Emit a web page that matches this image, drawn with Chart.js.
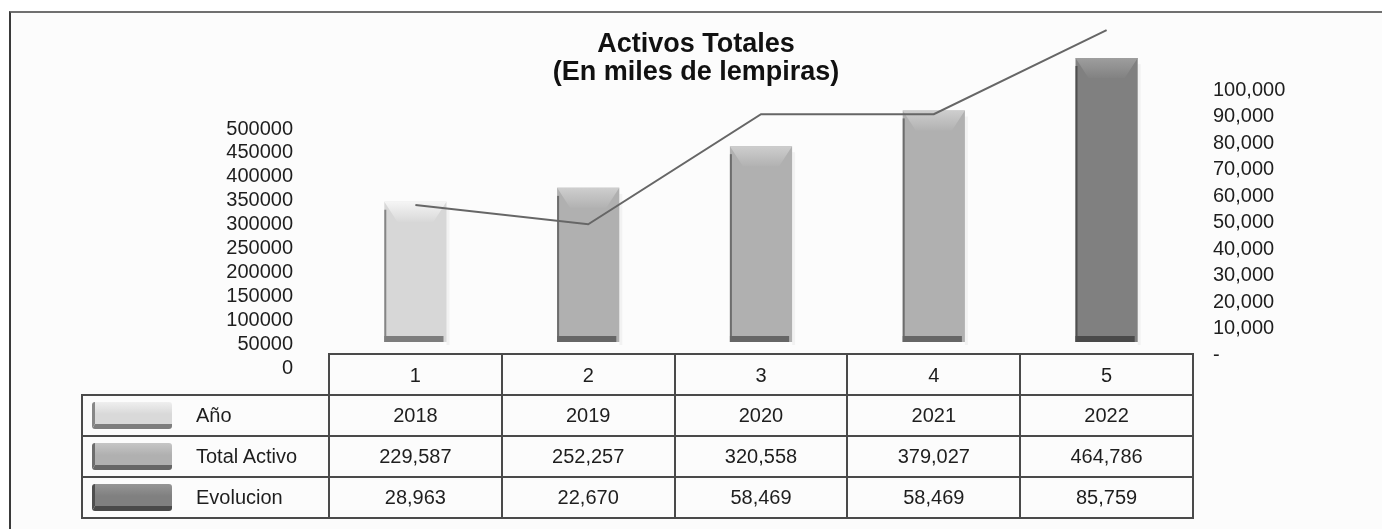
<!DOCTYPE html>
<html>
<head>
<meta charset="utf-8">
<script src="https://cdn.jsdelivr.net/npm/chart.js@4.4.1/dist/chart.umd.min.js"></script>
<style>
  html, body { margin: 0; padding: 0; background: #fff; }
  #wrap { position: relative; width: 1382px; height: 529px; overflow: hidden; background: #fff; }
  #frame { position: absolute; left: 9px; top: 11px; right: -10px; bottom: -10px; background: #fcfcfc;
           border-top: 2px solid #707070; border-left: 2px solid #3a3a3a; }
  canvas { position: absolute; left: 0; top: 0; }
  #tabla { position: absolute; left: 0; top: 0; width: 1382px; height: 529px; }
  .cell { position: absolute; box-sizing: border-box; border: 2px solid #4a4a4a; display: flex;
          align-items: center; justify-content: center; color: #1e1e1e;
          font: 20px 'Liberation Sans', Arial, sans-serif; }
  .cell.leg { justify-content: flex-start; }
  .sw { width: 80px; height: 27px; margin-left: 9px; margin-right: 24px; box-sizing: border-box;
        border-radius: 3px; }
</style>
</head>
<body>
<div id="wrap">
  <div id="frame"></div>
  <canvas id="c" width="1382" height="529"></canvas>
  <div id="tabla"></div>
</div>
<script>
// datos del grafico
const categories = ['1', '2', '3', '4', '5'];
const years = ['2018', '2019', '2020', '2021', '2022'];
const totalActivo = [229587, 252257, 320558, 379027, 464786];
const evolucion = [28963, 22670, 58469, 58469, 85759];
const leftTicks = [0, 50000, 100000, 150000, 200000, 250000, 300000, 350000, 400000, 450000, 500000];
const rightTicks = [0, 10000, 20000, 30000, 40000, 50000, 60000, 70000, 80000, 90000, 100000];
const rowLabels = ['Año', 'Total Activo', 'Evolucion'];

const barColors = ['#d7d7d7', '#b0b0b0', '#b0b0b0', '#b0b0b0', '#808080'];
const swatchColors = ['#d9d9d9', '#b0b0b0', '#808080'];
const FONT = "'Liberation Sans', Arial, sans-serif";

function shade(hex, amt) {
    const n = parseInt(hex.slice(1), 16);
    const f = v => Math.max(0, Math.min(255, v + amt));
    const r = f(n >> 16), g = f((n >> 8) & 255), b = f(n & 255);
    return `rgb(${r},${g},${b})`;
}
function dark(hex, k) {
    const n = parseInt(hex.slice(1), 16);
    const f = v => Math.round(v * k);
    return `rgb(${f(n >> 16)},${f((n >> 8) & 255)},${f(n & 255)})`;
}

// bisel tipo excel sobre las barras
const bevelPlugin = {
    id: 'bevel',
    afterDatasetDraw(chart, args) {
        if (args.index !== 0) return;
        const ctx = chart.ctx;
        args.meta.data.forEach((bar, i) => {
            const { x, y, base, width } = bar.getProps(['x', 'y', 'base', 'width'], true);
            const c = barColors[i];
            const l = x - width / 2, r = x + width / 2, h = base - y;
            ctx.save();
            ctx.fillStyle = 'rgba(0,0,0,0.04)';
            ctx.fillRect(r, y + 6, 3, h - 3);
            const g = ctx.createLinearGradient(0, y, 0, y + 20);
            g.addColorStop(0, shade(c, 30));
            g.addColorStop(1, shade(c, 2));
            ctx.fillStyle = g;
            ctx.beginPath();
            ctx.moveTo(l, y);
            ctx.lineTo(r, y);
            ctx.lineTo(r - 13, y + 20);
            ctx.lineTo(l + 13, y + 20);
            ctx.closePath();
            ctx.fill();
            ctx.fillStyle = dark(c, 0.62);
            ctx.fillRect(l, y + 8, 2, h - 8);
            ctx.fillStyle = dark(c, 0.58);
            ctx.fillRect(l, base - 6, width - 3, 6);
            ctx.restore();
        });
    }
};

const titlePlugin = {
    id: 'titulo',
    afterDraw(chart) {
        const ctx = chart.ctx;
        ctx.save();
        ctx.font = 'bold 27px ' + FONT;
        ctx.fillStyle = '#111';
        ctx.textAlign = 'center';
        ctx.textBaseline = 'middle';
        ctx.fillText('Activos Totales', 696, 45);
        ctx.fillText('(En miles de lempiras)', 696, 73);
        ctx.restore();
    }
};

const tickFont = { family: FONT, size: 20 };
const noPad = s => { s.paddingTop = 0; s.paddingBottom = 0; s.paddingLeft = 0; s.paddingRight = 0; };

const chart = new Chart(document.getElementById('c'), {
    type: 'bar',
    data: {
        labels: categories,
        datasets: [{
            type: 'bar',
            label: 'Total Activo',
            data: totalActivo,
            yAxisID: 'yb',
            backgroundColor: barColors,
            barPercentage: 0.36,
            categoryPercentage: 1,
            order: 1
        }, {
            type: 'line',
            label: 'Evolucion',
            data: evolucion,
            yAxisID: 'yline',
            borderColor: '#666666',
            borderWidth: 2,
            pointRadius: 0,
            tension: 0,
            clip: false,
            order: 0
        }]
    },
    options: {
        responsive: false,
        animation: false,
        devicePixelRatio: 1,
        layout: { padding: { top: 30, left: 0, right: 0, bottom: 0 } },
        plugins: {
            legend: { display: false },
            tooltip: { enabled: false }
        },
        scales: {
            x: {
                grid: { display: false },
                border: { display: false },
                ticks: { padding: -12, font: tickFont, color: '#1e1e1e' },
                afterFit: s => { s.height = 161; noPad(s); }
            },
            yl: {
                position: 'left',
                min: 0,
                max: 707113,
                grid: { display: false },
                border: { display: false },
                afterBuildTicks: s => { s.ticks = leftTicks.map(v => ({ value: v })); },
                afterFit: s => { s.width = 329; noPad(s); },
                ticks: {
                    autoSkip: false,
                    padding: 28,
                    font: tickFont,
                    color: '#1e1e1e',
                    callback: v => String(v)
                }
            },
            yr: {
                position: 'right',
                min: -4906,
                max: 122642,
                grid: { display: false },
                border: { display: false },
                afterBuildTicks: s => { s.ticks = rightTicks.map(v => ({ value: v })); },
                afterFit: s => { s.width = 1382 - 1193; noPad(s); },
                ticks: {
                    autoSkip: false,
                    padding: 12,
                    font: tickFont,
                    color: '#1e1e1e',
                    callback: v => v === 0 ? '-' : v.toLocaleString('en-US')
                }
            },
            yb: { display: false, min: -42553, max: 510638 },
            yline: { display: false, min: -24000, max: 85800 }
        }
    },
    plugins: [bevelPlugin, titlePlugin]
});

// tabla de datos debajo del grafico
const tabla = document.getElementById('tabla');
const xs = chart.scales.x;
const area = chart.chartArea;
const slot = area.width / categories.length;
const tableTop = 354, rowH = 41, tableLeft = 82;

function addCell(x0, y0, x1, y1, html, cls) {
    const d = document.createElement('div');
    d.className = cls;
    d.style.left = (x0 - 1) + 'px';
    d.style.top = (y0 - 1) + 'px';
    d.style.width = (x1 - x0 + 2) + 'px';
    d.style.height = (y1 - y0 + 2) + 'px';
    d.innerHTML = html;
    tabla.appendChild(d);
}

const fmt = v => v.toLocaleString('en-US');
const rows = [years, totalActivo.map(fmt), evolucion.map(fmt)];

categories.forEach((c, i) => {
    const cx = xs.getPixelForValue(i);
    addCell(cx - slot / 2, tableTop, cx + slot / 2, tableTop + rowH, '', 'cell');
});

rows.forEach((vals, r) => {
    const y0 = tableTop + rowH * (r + 1);
    const col = swatchColors[r];
    const sw = `<div class="sw" style="background: linear-gradient(to bottom, ${shade(col, 22)} 0%, ${col} 55%, ${col} 100%);
        border-left: 3px solid ${dark(col, 0.62)}; border-bottom: 5px solid ${dark(col, 0.58)};"></div>`;
    addCell(tableLeft, y0, area.left, y0 + rowH, sw + `<span>${rowLabels[r]}</span>`, 'cell leg');
    vals.forEach((v, i) => {
        const cx = xs.getPixelForValue(i);
        addCell(cx - slot / 2, y0, cx + slot / 2, y0 + rowH, v, 'cell');
    });
});
</script>
</body>
</html>
